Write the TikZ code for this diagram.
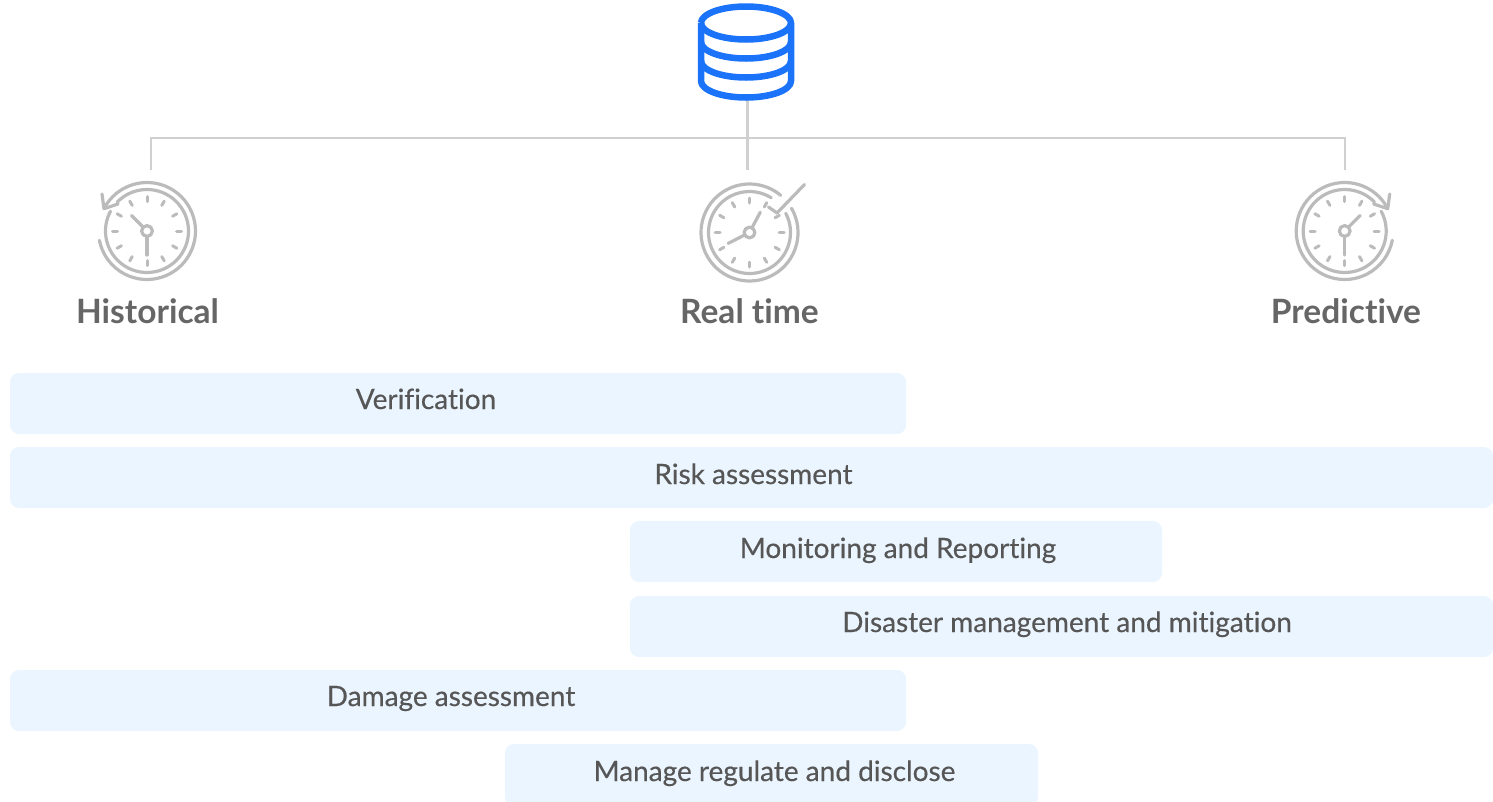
\documentclass[tikz,border=0pt]{standalone}
\usepackage{fontspec}
\setmainfont[Ligatures=NoCommon]{Lato}
\definecolor{barblue}{HTML}{EBF5FF}
\definecolor{dbblue}{HTML}{1A73F8}
\definecolor{linegray}{HTML}{D0D0D0}
\definecolor{clockgray}{HTML}{BBBBBB}
\definecolor{headgray}{HTML}{666666}
\definecolor{bartext}{HTML}{565656}
\tikzset{
  bar/.style={fill=barblue,draw=none,rounded corners=9pt},
  barlabel/.style={font=\fontsize{28}{32}\selectfont\addfontfeature{FakeBold=0.35},text=bartext,inner sep=0pt,anchor=base},
  head/.style={font=\fontsize{33.5}{38}\bfseries\selectfont,text=headgray,inner sep=0pt,anchor=base},
  conn/.style={draw=linegray,line width=2.2pt},
  clk/.style={draw=clockgray,line width=3.2pt,line cap=round,line join=round},
  tick/.style={draw=clockgray,line width=3pt,line cap=round},
  db/.style={draw=dbblue,line width=6.5pt,line join=round},
}
\newcommand{\clockticks}{%
  \foreach \a in {0,30,...,330}{\draw[tick] (\a:29.5) -- (\a:34.5);}
  \draw[clk] (0,0) circle[radius=5.4];
}
\tikzset{
  histclock/.pic={\begin{scope}[y=1pt,x=1pt]
    \clockticks
    \draw[clk] (0,-5.4) -- (0,-24);
    \draw[clk] (135:5.4) -- (135:22);
    \draw[clk] (152:48.5) arc[start angle=152,end angle=-169,radius=48.5];
    \draw[clk] (136:41.5) arc[start angle=136,end angle=-208.5,radius=41.5];
    \draw[clk] (-45,37) -- (-43,22.3) -- (-29,27);
  \end{scope}},
  realclock/.pic={\begin{scope}[y=1pt,x=1pt]
    \clockticks
    \draw[clk] (62:5.4) -- (62:23);
    \draw[clk] (207:5.4) -- (207:24);
    \draw[clk] (30:48.5) arc[start angle=30,end angle=-310,radius=48.5];
    \draw[clk] (28:41) arc[start angle=28,end angle=-302,radius=41];
    \draw[clk] (19,25.5) -- (27.5,19.5) -- (55,48);
  \end{scope}},
  predclock/.pic={\begin{scope}[y=1pt,x=1pt]
    \clockticks
    \draw[clk] (0,-5.4) -- (0,-24);
    \draw[clk] (45:5.4) -- (45:22);
    \draw[clk] (28:48.5) arc[start angle=28,end angle=349,radius=48.5];
    \draw[clk] (44:41.5) arc[start angle=44,end angle=388.5,radius=41.5];
    \draw[clk] (45,37) -- (43,22.3) -- (29,27);
  \end{scope}},
}
\begin{document}
\begin{tikzpicture}[x=1pt,y=-1pt]
\useasboundingbox (0,0) rectangle (1493,801);
% bars
\path[bar] (10,373) rectangle (906,434);
\path[bar] (10,447) rectangle (1493,508);
\path[bar] (630,521) rectangle (1162,582);
\path[bar] (630,596) rectangle (1493,657);
\path[bar] (10,670) rectangle (906,731);
\path[bar] (505,744) rectangle (1038,806);
\node[barlabel] (verif) at (426,409) {Verification};
\node[barlabel] (risk) at (753.5,484) {Risk assessment};
\node[barlabel] (monit) at (898,558) {Monitoring and Reporting};
\node[barlabel] (disas) at (1067,632) {Disaster management and mitigation};
\node[barlabel] (damage) at (451,706) {Damage assessment};
\node[barlabel] (manage) at (774.5,781) {Manage regulate and disclose};
% connectors
\coordinate (dbbase) at (747.5,99);
\coordinate (hub) at (747.5,138);
\coordinate (histtop) at (151,170);
\coordinate (realtop) at (747.5,170);
\coordinate (predtop) at (1345,170);
\draw[conn] (dbbase) -- (realtop);
\draw[conn] (histtop) |- (hub);
\draw[conn] (predtop) |- (hub);
% database
\draw[db] (701,23) arc[start angle=180,end angle=540,x radius=45,y radius=16.5];
\draw[db] (701,23) -- (701,81) arc[start angle=180,end angle=360,x radius=45,y radius=-16.5] -- (791,23);
\draw[db] (701,42) arc[start angle=180,end angle=360,x radius=45,y radius=-16.5];
\draw[db] (701,61) arc[start angle=180,end angle=360,x radius=45,y radius=-16.5];
% clocks
\pic at (147,231) {histclock};
\pic at (749.5,232.5) {realclock};
\pic at (1344.7,231) {predclock};
% heads
\node[head] (historical) at (147.5,323) {Historical};
\node[head] (realtime) at (749.5,323) {Real time};
\node[head] (predictive) at (1346,323) {Predictive};
\end{tikzpicture}
\end{document}
